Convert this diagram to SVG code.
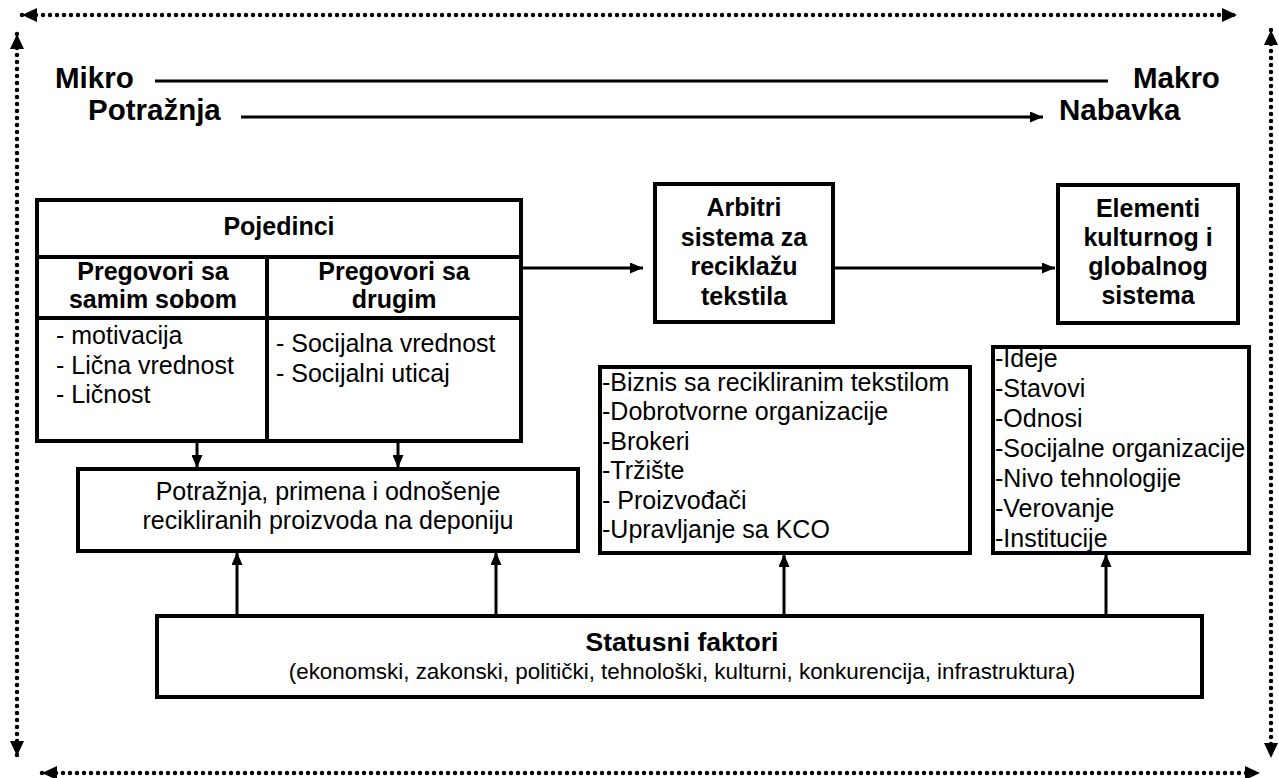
<svg xmlns="http://www.w3.org/2000/svg" width="1279" height="778" viewBox="0 0 1279 778">
<style>
.box{fill:#fff;stroke:#000;stroke-width:4}
.ln{fill:none;stroke:#000;stroke-width:3}
.dot{fill:none;stroke:#000;stroke-width:4.5;stroke-linecap:round;stroke-dasharray:0 7}
.b{font-family:"Liberation Sans",Arial,sans-serif;font-weight:bold;fill:#000}
.t{font-family:"Liberation Sans",Arial,sans-serif;fill:#000}
.h{font-size:25px;text-anchor:middle}
.body{font-size:25px}
.big{font-size:29.5px}
</style>
<defs>
<marker id="a" viewBox="0 0 13 11" refX="13" refY="5.5" markerWidth="13" markerHeight="11" markerUnits="userSpaceOnUse" orient="auto"><path d="M0,0 L13,5.5 L0,11 z" fill="#000"/></marker>
<marker id="d" viewBox="0 0 15 14" refX="15" refY="7" markerWidth="15" markerHeight="14" markerUnits="userSpaceOnUse" orient="auto-start-reverse"><path d="M0,0 L15,7 L0,14 z" fill="#000"/></marker>
</defs>
<rect width="1279" height="778" fill="#fff"/>

<g id="frame">
<line class="dot" x1="22" y1="15" x2="1237" y2="15" marker-start="url(#d)" marker-end="url(#d)"/>
<line class="dot" x1="42" y1="773" x2="1260" y2="773" marker-start="url(#d)" marker-end="url(#d)"/>
<line class="dot" x1="17" y1="34" x2="17" y2="756" marker-start="url(#d)" marker-end="url(#d)"/>
<line class="dot" x1="1271" y1="30" x2="1271" y2="758" marker-start="url(#d)" marker-end="url(#d)"/>
</g>

<g id="scale">
<text class="b big" x="55" y="88">Mikro</text>
<text class="b big" x="1133" y="88">Makro</text>
<text class="b big" x="88" y="120">Potražnja</text>
<text class="b big" x="1059" y="120">Nabavka</text>
</g>

<g id="connectors">
<line class="ln" x1="155" y1="81" x2="1108" y2="81"/>
<line class="ln" x1="241" y1="117" x2="1043" y2="117" marker-end="url(#a)"/>
<line class="ln" x1="521" y1="268" x2="643" y2="268" marker-end="url(#a)"/>
<line class="ln" x1="833" y1="268" x2="1055" y2="268" marker-end="url(#a)"/>
<line class="ln" x1="197" y1="441" x2="197" y2="468" marker-end="url(#a)"/>
<line class="ln" x1="398" y1="441" x2="398" y2="468" marker-end="url(#a)"/>
<line class="ln" x1="237" y1="616" x2="237" y2="552" marker-end="url(#a)"/>
<line class="ln" x1="496" y1="616" x2="496" y2="552" marker-end="url(#a)"/>
<line class="ln" x1="784" y1="616" x2="784" y2="554" marker-end="url(#a)"/>
<line class="ln" x1="1106" y1="616" x2="1106" y2="554" marker-end="url(#a)"/>
</g>

<g id="pojedinci">
<rect class="box" x="37" y="200" width="484" height="241"/>
<line class="ln" x1="37" y1="257" x2="521" y2="257" style="stroke-width:4"/>
<line class="ln" x1="37" y1="318" x2="521" y2="318" style="stroke-width:4"/>
<line class="ln" x1="267" y1="257" x2="267" y2="441" style="stroke-width:4"/>
<text class="b h" x="279" y="235">Pojedinci</text>
<text class="b h" x="153" y="280">Pregovori sa</text>
<text class="b h" x="153" y="308">samim sobom</text>
<text class="b h" x="394" y="280">Pregovori sa</text>
<text class="b h" x="394" y="308">drugim</text>
<text class="t body" x="56" y="344">- motivacija</text>
<text class="t body" x="56" y="374">- Lična vrednost</text>
<text class="t body" x="56" y="403">- Ličnost</text>
<text class="t body" x="276" y="352">- Socijalna vrednost</text>
<text class="t body" x="276" y="382">- Socijalni uticaj</text>
</g>

<g id="arbitri">
<rect class="box" x="655" y="184" width="178" height="138"/>
<text class="b h" x="744" y="216">Arbitri</text>
<text class="b h" x="744" y="246">sistema za</text>
<text class="b h" x="744" y="275">reciklažu</text>
<text class="b h" x="744" y="305">tekstila</text>
</g>

<g id="elementi">
<rect class="box" x="1058" y="185" width="180" height="138"/>
<text class="b h" x="1148" y="217">Elementi</text>
<text class="b h" x="1148" y="246">kulturnog i</text>
<text class="b h" x="1148" y="275">globalnog</text>
<text class="b h" x="1148" y="304">sistema</text>
</g>

<g id="potraznja">
<rect class="box" x="78" y="469" width="500" height="82"/>
<text class="t h" x="328" y="500">Potražnja, primena i odnošenje</text>
<text class="t h" x="328" y="529">recikliranih proizvoda na deponiju</text>
</g>

<g id="akteri">
<rect class="box" x="600" y="367" width="370" height="186"/>
<text class="t body" x="602" y="391">-Biznis sa recikliranim tekstilom</text>
<text class="t body" x="602" y="420">-Dobrotvorne organizacije</text>
<text class="t body" x="602" y="450">-Brokeri</text>
<text class="t body" x="602" y="479">-Tržište</text>
<text class="t body" x="602" y="509">- Proizvođači</text>
<text class="t body" x="602" y="538">-Upravljanje sa KCO</text>
</g>

<g id="lista">
<rect class="box" x="993" y="347" width="256" height="206"/>
<text class="t body" x="995" y="367">-Ideje</text>
<text class="t body" x="995" y="397">-Stavovi</text>
<text class="t body" x="995" y="427">-Odnosi</text>
<text class="t body" x="995" y="457">-Socijalne organizacije</text>
<text class="t body" x="995" y="487">-Nivo tehnologije</text>
<text class="t body" x="995" y="517">-Verovanje</text>
<text class="t body" x="995" y="547">-Institucije</text>
</g>

<g id="statusni">
<rect class="box" x="157" y="616" width="1045" height="81"/>
<text class="b" x="682" y="651" style="font-size:26.5px;text-anchor:middle">Statusni faktori</text>
<text class="t" x="682" y="679" style="font-size:22.4px;text-anchor:middle">(ekonomski, zakonski, politički, tehnološki, kulturni, konkurencija, infrastruktura)</text>
</g>
</svg>
